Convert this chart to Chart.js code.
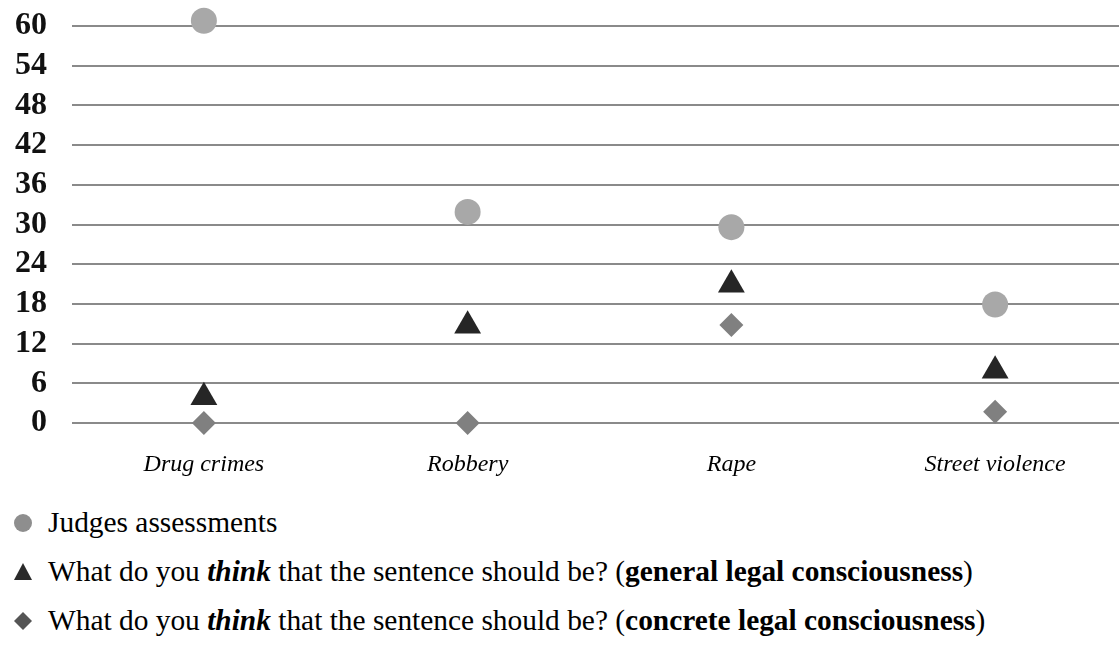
<!DOCTYPE html>
<html>
<head>
<meta charset="utf-8">
<script src="https://cdn.jsdelivr.net/npm/chart.js@4/dist/chart.umd.min.js"></script>
<style>
  html, body { margin: 0; padding: 0; background: #fff; width: 1119px; height: 646px; overflow: hidden; }
  #c { position: absolute; left: 0; top: 0; }
  #legend { position: absolute; left: 0; top: 503px; width: 1119px; font-family: 'Liberation Serif', 'Times New Roman', serif; font-size: 29.4px; color: #000; }
  .row { position: absolute; left: 0; height: 40px; width: 1119px; }
  .row svg { position: absolute; left: 12px; top: 9px; }
  .row span.t { position: absolute; left: 48px; top: 1px; white-space: nowrap; line-height: 36px; }
</style>
</head>
<body>
<canvas id="c" width="1127" height="500"></canvas>
<div id="legend"></div>
<script>
// ---- data ----
const categories = ['Drug crimes', 'Robbery', 'Rape', 'Street violence'];
const judgesAssessments = [60.8, 31.9, 29.6, 17.9];
const generalConsciousness = [3.9, 14.7, 20.9, 7.9];
const concreteConsciousness = [0, 0, 14.8, 1.7];
const yTicks = [0, 6, 12, 18, 24, 30, 36, 42, 48, 54, 60];
const seriesNames = [
  'Judges assessments',
  'What do you <b><i>think</i></b> that the sentence should be? (<b>general legal consciousness</b>)',
  'What do you <b><i>think</i></b> that the sentence should be? (<b>concrete legal consciousness</b>)'
];

Chart.defaults.font.family = "'Liberation Serif', 'Times New Roman', serif";

new Chart(document.getElementById('c'), {
  type: 'line',
  data: {
    labels: categories,
    datasets: [
      { label: 'Judges assessments', data: judgesAssessments, showLine: false, pointStyle: 'circle', pointRadius: 13, pointHoverRadius: 13, pointBackgroundColor: '#a8a8a8', pointBorderWidth: 0, borderColor: '#a8a8a8', clip: false },
      { label: 'general legal consciousness', data: generalConsciousness, showLine: false, pointStyle: 'triangle', pointRadius: 15.5, pointHoverRadius: 15.5, pointBackgroundColor: '#262626', pointBorderWidth: 0, borderColor: '#262626', clip: false },
      { label: 'concrete legal consciousness', data: concreteConsciousness, showLine: false, pointStyle: 'rectRot', pointRadius: 12, pointHoverRadius: 12, pointBackgroundColor: '#808080', pointBorderWidth: 0, borderColor: '#808080', clip: false }
    ]
  },
  options: {
    responsive: false,
    animation: false,
    events: [],
    layout: { autoPadding: false, padding: { top: 26, right: 0, bottom: 0, left: 0 } },
    plugins: { legend: { display: false }, tooltip: { enabled: false } },
    scales: {
      x: {
        offset: true,
        grid: { display: false, drawTicks: false },
        border: { display: false },
        ticks: { color: '#000', font: { size: 24, style: 'italic' }, padding: 27, maxRotation: 0, autoSkip: false },
        afterFit: s => { s.height = 77; s.paddingLeft = 0; s.paddingRight = 0; }
      },
      y: {
        min: 0, max: 60,
        afterBuildTicks: s => { s.ticks = yTicks.map(v => ({ value: v })); },
        grid: { color: '#8a8a8a', lineWidth: 2, drawTicks: false },
        border: { display: false },
        ticks: { color: '#111', font: { size: 32, weight: 'bold' }, padding: 25, autoSkip: false },
        afterFit: s => { s.width = 72; s.paddingTop = 0; s.paddingBottom = 0; }
      }
    }
  }
});

// ---- HTML legend ----
const markers = [
  '<svg width="22" height="22"><circle cx="11" cy="11" r="9" fill="#8e8e8e"/></svg>',
  '<svg width="22" height="22"><polygon points="11,2 20,19 2,19" fill="#2a2a2a"/></svg>',
  '<svg width="22" height="22"><polygon points="11,2 20,11 11,20 2,11" fill="#555"/></svg>'
];
const rowTops = [0, 49, 98];
const lg = document.getElementById('legend');
seriesNames.forEach((n, i) => {
  const r = document.createElement('div');
  r.className = 'row';
  r.style.top = rowTops[i] + 'px';
  r.innerHTML = markers[i] + '<span class="t">' + n + '</span>';
  lg.appendChild(r);
});
</script>
</body>
</html>
